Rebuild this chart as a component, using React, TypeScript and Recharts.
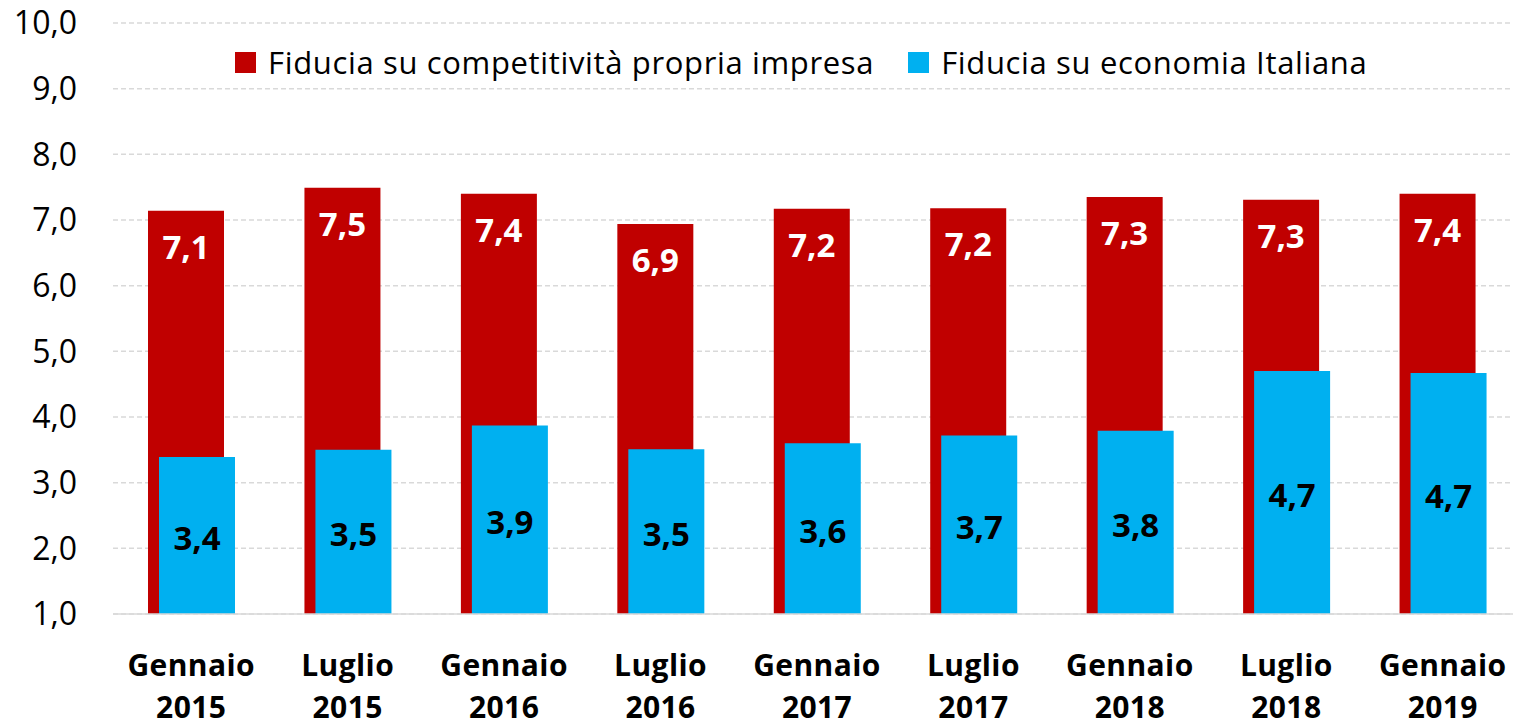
import React from "react";
import {
  Bar,
  BarChart,
  CartesianGrid,
  LabelList,
  Legend,
  XAxis,
  YAxis,
} from "recharts";

const periods = [
  "Gennaio 2015",
  "Luglio 2015",
  "Gennaio 2016",
  "Luglio 2016",
  "Gennaio 2017",
  "Luglio 2017",
  "Gennaio 2018",
  "Luglio 2018",
  "Gennaio 2019",
];

// fiducia su competitività propria impresa
const impresa = [7.14, 7.49, 7.4, 6.94, 7.17, 7.18, 7.35, 7.31, 7.4];
// fiducia su economia italiana
const economia = [3.39, 3.5, 3.87, 3.51, 3.6, 3.72, 3.79, 4.7, 4.67];

const yTicks = [1, 2, 3, 4, 5, 6, 7, 8, 9, 10];

const data = periods.map((p, i) => ({
  periodo: p,
  impresa: impresa[i],
  economia: economia[i],
}));

const FONT = "'Open Sans', Lato, sans-serif";
const RED = "#C00000";
const BLUE = "#00B0F0";

const fmt = (v: number) => v.toFixed(1).replace(".", ",");

const XTick = ({ x, y, payload }: any) => {
  const [mese, anno] = String(payload.value).split(" ");
  return (
    <text
      x={x}
      y={y}
      textAnchor="middle"
      fill="#000"
      fontFamily={FONT}
      fontWeight={700}
      fontSize={30}
      letterSpacing={0.4}
    >
      <tspan x={x} dy={62}>
        {mese}
      </tspan>
      <tspan x={x} dy={42}>
        {anno}
      </tspan>
    </text>
  );
};

// etichetta bianca in alto dentro la barra rossa
const RedLabel = ({ x, y, width, value }: any) => (
  <text
    x={x + width / 2}
    y={y + 48}
    textAnchor="middle"
    fill="#fff"
    fontFamily={FONT}
    fontWeight={700}
    fontSize={33}
  >
    {fmt(value)}
  </text>
);

// etichetta nera al centro della barra azzurra
const BlueLabel = ({ x, y, width, height, value }: any) => (
  <text
    x={x + width / 2}
    y={y + height / 2 + 14.5}
    textAnchor="middle"
    fill="#000"
    fontFamily={FONT}
    fontWeight={700}
    fontSize={33}
  >
    {fmt(value)}
  </text>
);

const LegendBox = ({ payload }: any) => (
  <div
    style={{
      display: "flex",
      alignItems: "center",
      paddingLeft: 235,
      height: 40,
      fontFamily: FONT,
      fontSize: 31,
      letterSpacing: 0.65,
      color: "#000",
    }}
  >
    {(payload || []).map((item: any, i: number) => (
      <div
        key={`leg-${i}`}
        style={{ display: "flex", alignItems: "center", marginRight: 34 }}
      >
        <span
          style={{
            width: 21,
            height: 21,
            background: item.color,
            marginRight: 12,
            display: "inline-block",
          }}
        />
        <span style={{ lineHeight: "40px" }}>{item.value}</span>
      </div>
    ))}
  </div>
);

export default function App() {
  return (
    <div
      style={{
        position: "absolute",
        left: 0,
        top: 0,
        width: 1513,
        height: 723,
        overflow: "hidden",
        background: "#fff",
      }}
    >
      <BarChart
        width={1521}
        height={723}
        data={data}
        margin={{ top: 23, right: 0, left: 0, bottom: 0 }}
        barGap={-65}
      >
        <CartesianGrid
          vertical={false}
          stroke="#D9D9D9"
          strokeWidth={1.5}
          strokeDasharray="5 3"
        />
        <XAxis
          dataKey="periodo"
          height={109}
          interval={0}
          tickLine={false}
          tickSize={0}
          tickMargin={0}
          axisLine={{ stroke: "#D9D9D9", strokeWidth: 1.5 }}
          tick={<XTick />}
        />
        <YAxis
          width={113}
          domain={[1, 10]}
          ticks={yTicks}
          interval={0}
          allowDataOverflow
          axisLine={false}
          tickLine={false}
          tickSize={0}
          tickMargin={36}
          tickFormatter={fmt}
          tick={{ fill: "#000", fontSize: 32, fontFamily: FONT }}
        />
        <Legend
          layout="horizontal"
          verticalAlign="middle"
          align="center"
          wrapperStyle={{ top: 42, left: 0, width: 1521 }}
          content={<LegendBox />}
        />
        <Bar
          dataKey="impresa"
          name="Fiducia su competitività propria impresa"
          fill={RED}
          barSize={76}
          isAnimationActive={false}
        >
          <LabelList dataKey="impresa" content={<RedLabel />} />
        </Bar>
        <Bar
          dataKey="economia"
          name="Fiducia su economia Italiana"
          fill={BLUE}
          barSize={76}
          isAnimationActive={false}
        >
          <LabelList dataKey="economia" content={<BlueLabel />} />
        </Bar>
      </BarChart>
    </div>
  );
}
